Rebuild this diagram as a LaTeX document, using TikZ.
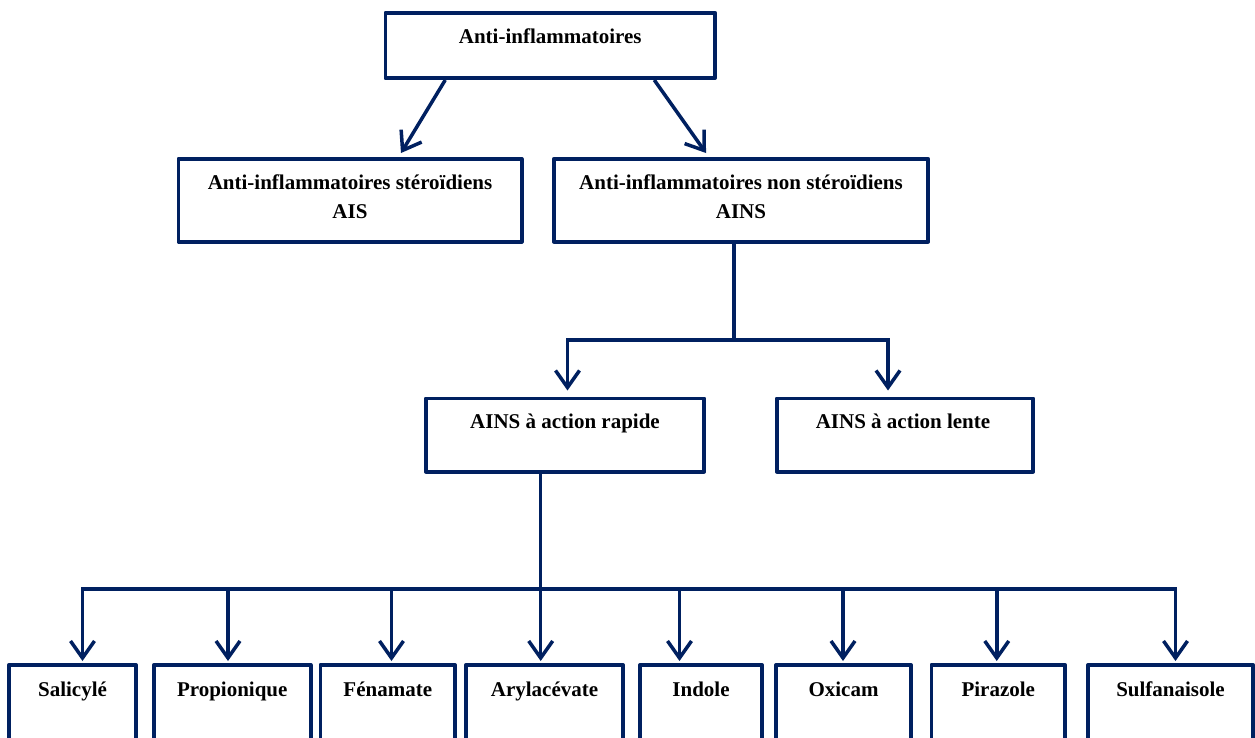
\documentclass[tikz,border=0pt]{standalone}
\usepackage{fontspec}
\setmainfont{Liberation Serif}
\usetikzlibrary{arrows.meta}
\definecolor{navy}{HTML}{002060}
\begin{document}
\begin{tikzpicture}[x=1pt,y=-1pt,
  box/.style={draw=navy, line width=3.8pt, line join=round, inner sep=0pt},
  txt/.style={font=\fontsize{21}{29}\selectfont\bfseries, text=black, inner sep=0pt, align=center},
  conn/.style={draw=navy, line width=3.5pt, line join=miter},
  arr/.style={conn, -{Straight Barb[length=17pt,width=24pt]}}]
\fill[white] (0,0) rectangle (1255,737);
\useasboundingbox (0,0) rectangle (1255,737);
\clip (0,0) rectangle (1255,737);

% boxes
\node[box, minimum width=329.7pt, minimum height=65.2pt] (top) at (550.25,45.5) {};
\node[box, minimum width=343.2pt, minimum height=82.7pt] (ais) at (350,200.25) {};
\node[box, minimum width=374.2pt, minimum height=82.7pt] (ains) at (741,200.25) {};
\node[box, minimum width=278.2pt, minimum height=73.2pt] (rapide) at (565,435) {};
\node[box, minimum width=256.2pt, minimum height=73.2pt] (lente) at (905,435) {};
\node[box, minimum width=127.2pt, minimum height=133.2pt] (sal) at (72.5,731.5) {};
\node[box, minimum width=156.7pt, minimum height=133.2pt] (prop) at (232.25,731.5) {};
\node[box, minimum width=134.7pt, minimum height=133.2pt] (fen) at (387.75,731.5) {};
\node[box, minimum width=157.2pt, minimum height=133.2pt] (aryl) at (544.5,731.5) {};
\node[box, minimum width=122.2pt, minimum height=133.2pt] (ind) at (701,731.5) {};
\node[box, minimum width=135.2pt, minimum height=133.2pt] (oxi) at (843.5,731.5) {};
\node[box, minimum width=133.7pt, minimum height=133.2pt] (pir) at (998.25,731.5) {};
\node[box, minimum width=165.2pt, minimum height=133.2pt] (sulf) at (1170.5,731.5) {};

% texts
\node[txt, anchor=base] (ttop) at (550.25,43) {Anti-inflammatoires};
\node[txt] (tais) at (350,196.5) {Anti-inflammatoires stéroïdiens\\AIS};
\node[txt] (tains) at (741,196.5) {Anti-inflammatoires non stéroïdiens\\AINS};
\node[txt, anchor=base] (trapide) at (565,428) {AINS à action rapide};
\node[txt, anchor=base] (tlente) at (903,428) {AINS à action lente};
\node[txt, anchor=base] (tsal) at (72.5,696) {Salicylé};
\node[txt, anchor=base] (tprop) at (232.25,696) {Propionique};
\node[txt, anchor=base] (tfen) at (387.75,696) {Fénamate};
\node[txt, anchor=base] (taryl) at (544.5,696) {Arylacévate};
\node[txt, anchor=base] (tind) at (701,696) {Indole};
\node[txt, anchor=base] (toxi) at (843.5,696) {Oxicam};
\node[txt, anchor=base] (tpir) at (998.25,696) {Pirazole};
\node[txt, anchor=base] (tsulf) at (1170.5,696) {Sulfanaisole};

% connectors
\draw[arr] ([xshift=-105pt]top.south) -- ([xshift=51pt,yshift=4pt]ais.north);
\draw[arr] ([xshift=104pt]top.south) -- ([xshift=-35pt,yshift=4pt]ains.north);

\coordinate (j1) at (734,340);
\draw[conn] ([xshift=-7pt]ains.south) -- (j1);
\draw[arr] (j1) -| ([xshift=2.5pt,yshift=6pt]rapide.north);
\draw[arr] (j1) -| ([xshift=-17pt,yshift=6pt]lente.north);

\coordinate (j2) at (540.7,589);
\draw[conn] ([xshift=-24.3pt]rapide.south) -- (j2);
\draw[arr] (j2) -| ([xshift=10pt,yshift=2pt]sal.north);
\draw[arr] (j2) -| ([xshift=-4.25pt,yshift=2pt]prop.north);
\draw[arr] (j2) -| ([xshift=3.75pt,yshift=2pt]fen.north);
\draw[arr] (j2) -- ([xshift=-3.8pt,yshift=2pt]aryl.north);
\draw[arr] (j2) -| ([xshift=-21.5pt,yshift=2pt]ind.north);
\draw[arr] (j2) -| ([xshift=-0.5pt,yshift=2pt]oxi.north);
\draw[arr] (j2) -| ([xshift=-1.5pt,yshift=2pt]pir.north);
\draw[arr] (j2) -| ([xshift=5pt,yshift=2pt]sulf.north);
\end{tikzpicture}
\end{document}
